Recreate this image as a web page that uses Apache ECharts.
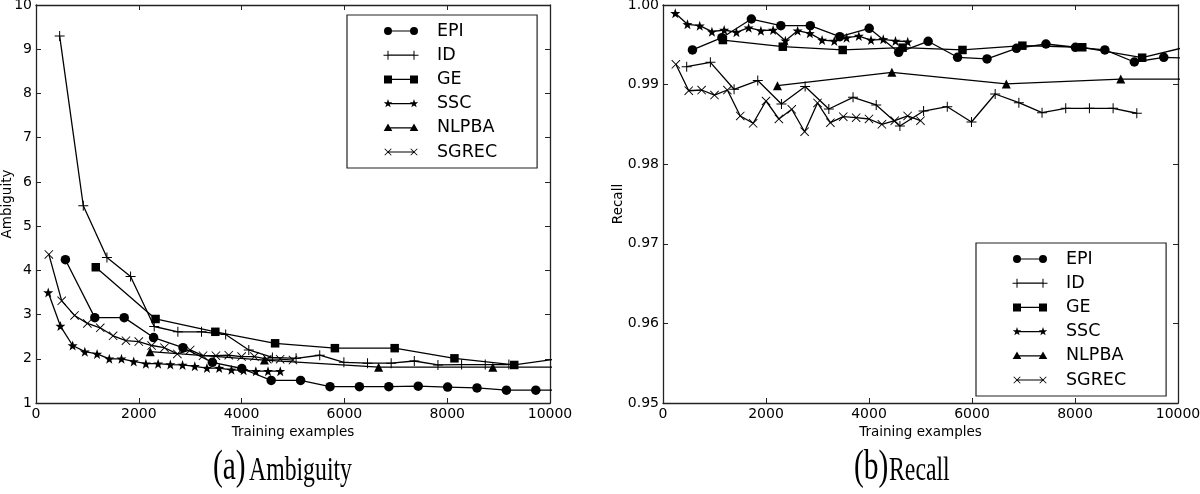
<!DOCTYPE html>
<html><head><meta charset="utf-8">
<script src="https://cdn.jsdelivr.net/npm/echarts@6/dist/echarts.min.js"></script>
<style>html,body{margin:0;padding:0;background:#fff}#c{width:1200px;height:494px}</style>
</head><body><div id="c"></div>
<script>
// ---------------- data ----------------
const seriesNames = ['EPI', 'ID', 'GE', 'SSC', 'NLPBA', 'SGREC'];
const xTickValues = [0, 2000, 4000, 6000, 8000, 10000];

const epiX   = [572,1144,1716,2288,2860,3432,4004,4576,5148,5720,6292,6864,7436,8008,8580,9152,9724,10296];
const idX    = [460,920,1380,1840,2300,2760,3220,3690,4140,4600,5060,5520,5990,6450,6910,7360,7820,8280,8740,9200];
const geX    = [1163,2326,3489,4652,5815,6978,8141,9304,10467];
const sscX   = [238,475,713,950,1188,1426,1663,1901,2138,2376,2614,2851,3089,3326,3564,3802,4039,4277,4514,4752];
const nlpbaX = [2222,4444,6666,8888,11110];
const sgrecX = [250,500,750,1000,1250,1500,1750,2000,2250,2500,2750,3000,3250,3500,3750,4000,4250,4500,4750,5000];

// (a) Ambiguity
const ambEPI   = [4.24,2.93,2.93,2.48,2.25,1.92,1.78,1.51,1.51,1.37,1.37,1.37,1.38,1.36,1.34,1.29,1.29,1.29];
const ambID    = [9.30,5.46,4.29,3.86,2.73,2.61,2.61,2.55,2.20,2.03,2.01,2.08,1.92,1.90,1.90,1.95,1.86,1.87,1.87,1.87];
const ambGE    = [4.07,2.90,2.61,2.35,2.24,2.24,2.01,1.86,2.05];
const ambSSC   = [3.50,2.74,2.30,2.16,2.11,2.00,2.00,1.94,1.89,1.89,1.87,1.86,1.83,1.79,1.79,1.75,1.74,1.72,1.72,1.72];
const ambNLPBA = [2.16,1.97,1.81,1.81,1.81];
const ambSGREC = [4.36,3.31,2.98,2.80,2.70,2.52,2.41,2.39,2.30,2.25,2.11,2.20,2.07,2.07,2.08,2.05,2.05,1.99,1.99,1.97];

// (b) Recall
const recEPI   = [0.99435,0.99589,0.99824,0.9974,0.9974,0.99602,0.99707,0.99405,0.99544,0.99343,0.99322,0.99456,0.9951,0.99469,0.99435,0.99284,0.99343,0.9933];
const recID    = [0.99225,0.9928,0.98941,0.99051,0.98756,0.98977,0.98693,0.9884,0.98744,0.9848,0.98668,0.98722,0.9853,0.98882,0.98773,0.98647,0.98702,0.98702,0.98702,0.9864];
const recGE    = [0.9956,0.99476,0.99435,0.99464,0.99435,0.99489,0.99469,0.99338,0.9952];
const recSSC   = [0.99896,0.99757,0.9974,0.99665,0.99686,0.99657,0.99715,0.99677,0.99686,0.99552,0.99677,0.99644,0.9956,0.99548,0.99589,0.9961,0.9956,0.99569,0.99548,0.99539];
const recNLPBA = [0.98986,0.99154,0.99008,0.9907,0.9907];
const recSGREC = [0.99255,0.98923,0.98932,0.98869,0.98932,0.98606,0.98514,0.98794,0.98568,0.9869,0.98408,0.98769,0.98522,0.98597,0.98585,0.98568,0.98501,0.98547,0.98606,0.98547];

// ---------------- styling helpers ----------------
const FONT = 'DejaVu Sans';
const INK = '#000';
const STAR = 'path://M0,-10L2.35,-3.24L9.51,-3.09L3.8,1.24L5.88,8.09L0,4L-5.88,8.09L-3.8,1.24L-9.51,-3.09L-2.35,-3.24Z';
const PLUS = 'path://M-1,-10L1,-10L1,10L-1,10Z M-10,-1L10,-1L10,1L-10,1Z';
const CROSS = 'path://M-10,-8.6L-8.6,-10L10,8.6L8.6,10Z M8.6,-10L10,-8.6L-8.6,10L-10,8.6Z';
const markers = {
  EPI:   {symbol: 'circle',   size: 9.5},
  ID:    {symbol: PLUS,       size: 10},
  GE:    {symbol: 'rect',     size: 8.5},
  SSC:   {symbol: STAR,       size: 10},
  NLPBA: {symbol: 'triangle', size: 9},
  SGREC: {symbol: CROSS,      size: 9}
};

function mk(cx, name) {
  const f = (n) => +n.toFixed(2);
  switch (name) {
    case 'EPI': return `M${f(cx-4)},0A4,4 0 1,1 ${f(cx+4)},0A4,4 0 1,1 ${f(cx-4)},0Z`;
    case 'GE': return `M${cx-4},-4L${cx+4},-4L${cx+4},4L${cx-4},4Z`;
    case 'NLPBA': return `M${cx},-4.3L${cx+4.3},3.3L${cx-4.3},3.3Z`;
    case 'SSC': {
      const pts = [[0,-10],[2.35,-3.24],[9.51,-3.09],[3.8,1.24],[5.88,8.09],[0,4],[-5.88,8.09],[-3.8,1.24],[-9.51,-3.09],[-2.35,-3.24]];
      return 'M' + pts.map(p => f(cx + p[0]*0.45) + ',' + f(p[1]*0.45)).join('L') + 'Z';
    }
    case 'ID': return `M${cx-4.5},-0.5L${cx+4.5},-0.5L${cx+4.5},0.5L${cx-4.5},0.5Z M${cx-0.5},-4.5L${cx+0.5},-4.5L${cx+0.5},4.5L${cx-0.5},4.5Z`;
    case 'SGREC': return `M${cx-3.6},-3L${cx-3},-3.6L${cx+3.6},3L${cx+3},3.6Z M${cx+3},-3.6L${cx+3.6},-3L${cx-3},3.6L${cx-3.6},3Z`;
  }
}
function legendIcon(name) {
  const bounds = 'M-5,-5L-4.99,-5L-5,-4.99Z M44,5L43.99,5L44,4.99Z';
  const line = 'M0,-0.6L26,-0.6L26,0.6L0,0.6Z';
  return 'path://' + bounds + ' ' + line + ' ' + mk(0, name) + ' ' + mk(26, name);
}

const xs = {EPI: epiX, ID: idX, GE: geX, SSC: sscX, NLPBA: nlpbaX, SGREC: sgrecX};
const amb = {EPI: ambEPI, ID: ambID, GE: ambGE, SSC: ambSSC, NLPBA: ambNLPBA, SGREC: ambSGREC};
const rec = {EPI: recEPI, ID: recID, GE: recGE, SSC: recSSC, NLPBA: recNLPBA, SGREC: recSGREC};

function pairs(x, y) { return x.map((v, i) => [v, y[i]]); }

const grids = [
  {left: 36, top: 5, width: 514, height: 398, outerBoundsMode: 'none'},
  {left: 663, top: 5, width: 515, height: 398, outerBoundsMode: 'none'}
];

const axisLine = {show: true, onZero: false, lineStyle: {color: '#222', width: 1.3}};
const tick = {show: true, inside: true, length: 5, lineStyle: {color: '#222', width: 1}};
const labelStyle = {fontFamily: FONT, fontSize: 14, color: INK};

function xAxes(g) {
  return [
    {gridIndex: g, type: 'value', position: 'bottom', min: xTickValues[0], max: xTickValues[xTickValues.length - 1], interval: 2000,
     axisLine, axisTick: tick, splitLine: {show: false},
     axisLabel: Object.assign({margin: 4, showMinLabel: true, showMaxLabel: true, formatter: v => String(v)}, labelStyle),
     name: 'Training examples', nameLocation: 'middle', nameGap: 22, nameMoveOverlap: false,
     nameTextStyle: {fontFamily: FONT, fontSize: 13.5, color: INK}},
    {gridIndex: g, type: 'value', position: 'top', min: xTickValues[0], max: xTickValues[xTickValues.length - 1], interval: 2000,
     axisLine, axisTick: tick, splitLine: {show: false}, axisLabel: {show: false}}
  ];
}
function yAxes(g, min, max, interval, name, gap, fmt) {
  return [
    {gridIndex: g, type: 'value', position: 'left', min, max, interval,
     axisLine, axisTick: tick, splitLine: {show: false},
     axisLabel: Object.assign({margin: 4, showMinLabel: true, showMaxLabel: true, formatter: fmt}, labelStyle),
     name, nameLocation: 'middle', nameGap: gap, nameMoveOverlap: false,
     nameTextStyle: {fontFamily: FONT, fontSize: 13.5, color: INK}},
    {gridIndex: g, type: 'value', position: 'right', min, max, interval,
     axisLine, axisTick: tick, splitLine: {show: false}, axisLabel: {show: false}}
  ];
}

const series = [];
seriesNames.forEach(n => {
  series.push({name: n, type: 'line', xAxisIndex: 0, yAxisIndex: 0, data: pairs(xs[n], amb[n]),
    symbol: markers[n].symbol, symbolSize: markers[n].size, showAllSymbol: true, clip: true,
    lineStyle: {color: INK, width: 1.3}, itemStyle: {color: INK, borderWidth: 0}, animation: false});
});
seriesNames.forEach(n => {
  series.push({name: n, type: 'line', xAxisIndex: 2, yAxisIndex: 2, data: pairs(xs[n], rec[n]),
    symbol: markers[n].symbol, symbolSize: markers[n].size, showAllSymbol: true, clip: true,
    lineStyle: {color: INK, width: 1.3}, itemStyle: {color: INK, borderWidth: 0}, animation: false});
});

function legend(left, top) {
  return {
    orient: 'vertical', left, top, selectedMode: false,
    data: seriesNames.map(n => ({name: n, icon: legendIcon(n)})),
    itemWidth: 49, itemHeight: 10, itemGap: 6.2,
    padding: [7, 40, 7, 36],
    borderColor: '#222', borderWidth: 1.2, backgroundColor: '#fff',
    itemStyle: {color: INK, borderWidth: 0},
    textStyle: {fontFamily: FONT, fontSize: 17.5, color: INK, lineHeight: 18}
  };
}

const SERIF = '"Liberation Serif"';
const option = {
  animation: false,
  backgroundColor: '#fff',
  grid: grids,
  xAxis: [...xAxes(0), ...xAxes(1)],
  yAxis: [...yAxes(0, 1, 10, 1, 'Ambiguity', 22, v => String(v)),
          ...yAxes(1, 0.95, 1.0, 0.01, 'Recall', 38, v => v.toFixed(2))],
  legend: [legend(347, 15), legend(976, 243)],
  series,
  graphic: [
    {type: 'text', x: 213, y: 447, scaleX: 0.7, style: {text: '(a)', font: '42px ' + SERIF, fill: INK}},
    {type: 'text', x: 249, y: 455, scaleX: 0.72, style: {text: 'Ambiguity', font: '33px ' + SERIF, fill: INK}},
    {type: 'text', x: 854, y: 447, scaleX: 0.7, style: {text: '(b)', font: '42px ' + SERIF, fill: INK}},
    {type: 'text', x: 889, y: 455, scaleX: 0.72, style: {text: 'Recall', font: '33px ' + SERIF, fill: INK}}
  ]
};

const chart = echarts.init(document.getElementById('c'), null, {renderer: 'canvas'});
chart.setOption(option);
</script>
</body></html>
